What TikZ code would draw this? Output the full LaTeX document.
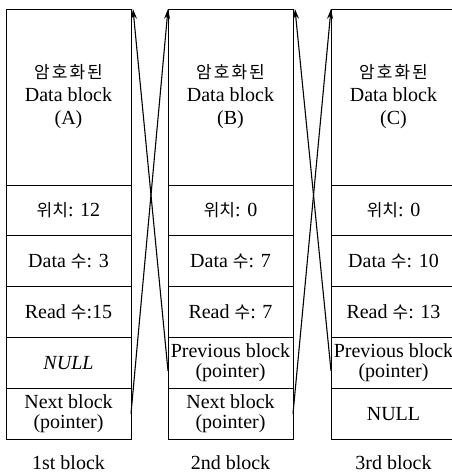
\documentclass[tikz,border=0pt]{standalone}
\usepackage{fontspec}
\setmainfont{Liberation Serif}
\newfontfamily\kr{Noto Sans CJK KR}
\newfontfamily\krwide[LetterSpace=12]{Noto Sans CJK KR}
\usetikzlibrary{positioning,arrows.meta}

% cells of one block
\tikzset{
  cell/.style={draw, line width=0.9pt, minimum width=125pt, minimum height=50.8pt,
    inner sep=0pt, outer sep=0pt, align=center, font=\fontsize{20}{20}\selectfont},
  datacell/.style={cell, minimum height=176pt, font=\fontsize{20}{23}\selectfont},
  link/.style={line width=1.1pt, -{Stealth[length=10pt,width=6pt]}},
  caption/.style={font=\fontsize{20}{20}\selectfont}
}
\newcommand{\hk}[1]{{\kr\fontsize{17}{20}\selectfont #1}}
\newcommand{\hktitle}{{\krwide\fontsize{17}{20}\selectfont 암호화된}}

\begin{document}
\begin{tikzpicture}[x=1pt, y=-1pt]
  \useasboundingbox (0,0) rectangle (452,474);

  % 1st block
  \node[datacell, anchor=north west] (data1) at (6,9) {\hktitle\\Data block\\(A)};
  \node[cell, below=0pt of data1] (pos1) {\hk{위치}: 12};
  \node[cell, below=0pt of pos1] (cnt1) {Data \hk{수}: 3};
  \node[cell, below=0pt of cnt1] (read1) {Read \hk{수}:15};
  \node[cell, below=0pt of read1] (prev1) {\textit{NULL}};
  \node[cell, below=0pt of prev1] (next1) {Next block\\(pointer)};
  \node[caption, below=13pt of next1] (cap1) {1st block};

  % 2nd block
  \node[datacell, anchor=north west] (data2) at (168,9) {\hktitle\\Data block\\(B)};
  \node[cell, below=0pt of data2] (pos2) {\hk{위치}: 0};
  \node[cell, below=0pt of pos2] (cnt2) {Data \hk{수}: 7};
  \node[cell, below=0pt of cnt2] (read2) {Read \hk{수}: 7};
  \node[cell, below=0pt of read2] (prev2) {Previous block\\(pointer)};
  \node[cell, below=0pt of prev2] (next2) {Next block\\(pointer)};
  \node[caption, below=13pt of next2] (cap2) {2nd block};

  % 3rd block
  \node[datacell, anchor=north west] (data3) at (331,9) {\hktitle\\Data block\\(C)};
  \node[cell, below=0pt of data3] (pos3) {\hk{위치}: 0};
  \node[cell, below=0pt of pos3] (cnt3) {Data \hk{수}: 10};
  \node[cell, below=0pt of cnt3] (read3) {Read \hk{수}: 13};
  \node[cell, below=0pt of read3] (prev3) {Previous block\\(pointer)};
  \node[cell, below=0pt of prev3] (next3) {NULL};
  \node[caption, below=13pt of next3] (cap3) {3rd block};

  % pointers between blocks
  \draw[link] (next1.east) -- (data2.north west);
  \draw[link] ([yshift=-8pt]prev2.west) -- ([xshift=2pt]data1.north east);
  \draw[link] (next2.east) -- (data3.north west);
  \draw[link] ([yshift=-8pt]prev3.west) -- ([xshift=2pt]data2.north east);
\end{tikzpicture}
\end{document}
